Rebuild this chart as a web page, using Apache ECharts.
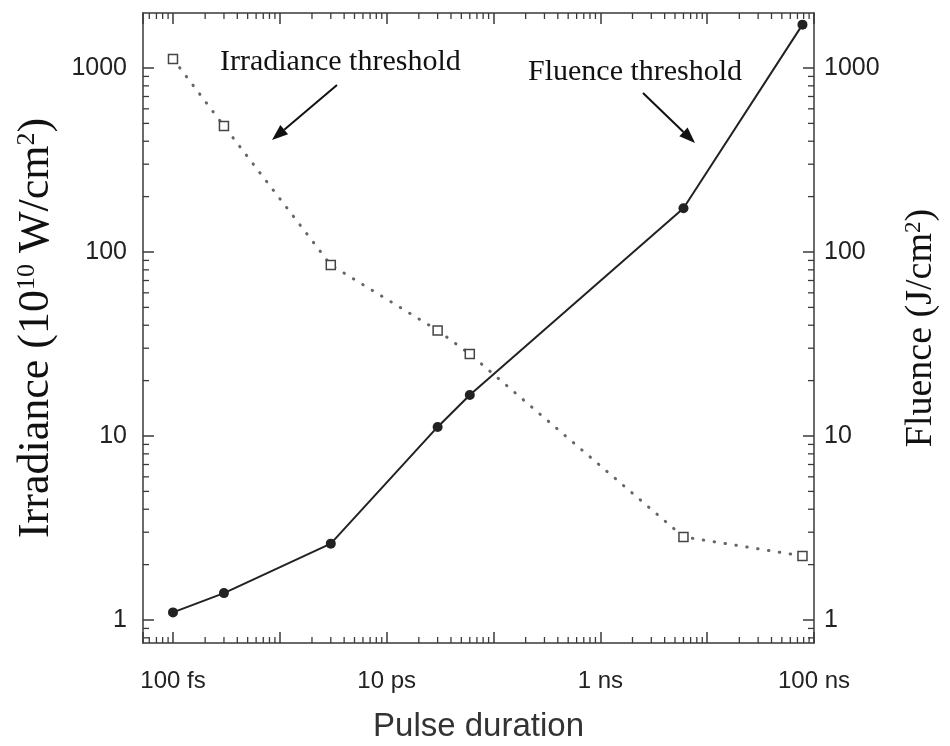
<!DOCTYPE html>
<html>
<head>
<meta charset="UTF-8">
<title>Irradiance and fluence threshold vs pulse duration</title>
<script src="https://cdn.jsdelivr.net/npm/echarts@6/dist/echarts.min.js"></script>
<style>
	html, body { margin: 0; background: #fff; }
	#chart { width: 950px; height: 746px; }
</style>
</head>
<body>
<div id="chart"></div>
<script>
	// pulse duration, in fs
	var pulseFs = [100, 300, 3000, 30000, 60000, 6e6, 7.8e7];
	// irradiance threshold, 10^10 W/cm2 (open squares, dotted)
	var irradiance = [1120, 484, 85, 37.5, 27.9, 2.83, 2.23];
	// fluence threshold, J/cm2 (filled circles, solid)
	var fluence = [1.1, 1.4, 2.6, 11.2, 16.7, 173, 1720];
	// x tick labels keyed by log10(fs)
	var xTickLabels = { 2: '100 fs', 4: '10 ps', 6: '1 ns', 8: '100 ns' };
	var xMin = 52.4, xMax = 1e8;
	var yMin = 0.75, yMax = 1990;

	var INK = '#3a3a3a';

	// minor ticks 2..9 inside each decade
	function minorTicks(lo, hi) {
		var out = [];
		for (var e = Math.floor(Math.log10(lo)); e <= Math.ceil(Math.log10(hi)); e++) {
			for (var m = 2; m <= 9; m++) {
				var v = m * Math.pow(10, e);
				if (v > lo && v < hi) out.push(v);
			}
		}
		return out;
	}

	function tickLine(x1, y1, x2, y2) {
		return { type: 'line', shape: { x1: x1, y1: y1, x2: x2, y2: y2 }, style: { stroke: INK, lineWidth: 1.3 } };
	}

	function minorTickSeries(dir) {
		var vals = dir === 'x' ? minorTicks(xMin, xMax) : minorTicks(yMin, yMax);
		return {
			type: 'custom', silent: true, z: 1, clip: false,
			xAxisIndex: 0, yAxisIndex: 0,
			data: vals.map(function (v) { return dir === 'x' ? [v, 1] : [1, v]; }),
			renderItem: function (params, api) {
				var cs = params.coordSys, len = 6;
				if (dir === 'x') {
					var px = api.coord([api.value(0), 1])[0];
					return { type: 'group', children: [
						tickLine(px, cs.y + cs.height, px, cs.y + cs.height - len),
						tickLine(px, cs.y, px, cs.y + len)
					] };
				}
				var py = api.coord([1, api.value(1)])[1];
				return { type: 'group', children: [
					tickLine(cs.x, py, cs.x + len, py),
					tickLine(cs.x + cs.width, py, cs.x + cs.width - len, py)
				] };
			}
		};
	}

	// arrow for the annotations: line plus filled head at (tx, ty)
	function arrow(sx, sy, tx, ty) {
		var a = Math.atan2(ty - sy, tx - sx), hl = 16, hw = 6;
		var bx = tx - hl * Math.cos(a), by = ty - hl * Math.sin(a);
		var nx = -Math.sin(a) * hw, ny = Math.cos(a) * hw;
		return [
			{ type: 'line', shape: { x1: sx, y1: sy, x2: bx, y2: by }, style: { stroke: '#111', lineWidth: 2 } },
			{ type: 'polygon', shape: { points: [[tx, ty], [bx + nx, by + ny], [bx - nx, by - ny]] }, style: { fill: '#111' } }
		];
	}

	function plainNumber(v) { return String(v); }

	var axisLine = { show: true, lineStyle: { color: INK, width: 1.5 } };
	var majorTick = { show: true, inside: true, length: 11, lineStyle: { color: INK, width: 1.5 } };
	var sans = 'Liberation Sans';
	var serif = 'Liberation Serif';

	var chart = echarts.init(document.getElementById('chart'));
	chart.setOption({
		animation: false,
		backgroundColor: '#fff',
		grid: { left: 143, right: 136, top: 13, bottom: 103, containLabel: false, outerBoundsMode: 'none' },
		xAxis: [{
			type: 'log', logBase: 10, min: xMin, max: xMax, position: 'bottom',
			axisLine: axisLine, axisTick: majorTick, splitLine: { show: false },
			axisLabel: {
				fontFamily: sans, color: '#222', fontSize: 24, margin: 26,
				formatter: function (v) {
					var e = Math.log10(v), r = Math.round(e);
					return Math.abs(e - r) < 1e-6 && xTickLabels[r] ? xTickLabels[r] : '';
				}
			},
			name: 'Pulse duration', nameLocation: 'middle', nameGap: 67,
			nameTextStyle: { fontFamily: sans, fontSize: 33, color: '#333' }
		}, {
			type: 'log', logBase: 10, min: xMin, max: xMax, position: 'top',
			axisLine: axisLine, axisTick: majorTick, axisLabel: { show: false }, splitLine: { show: false }
		}],
		yAxis: [{
			type: 'log', logBase: 10, min: yMin, max: yMax, position: 'left',
			axisLine: axisLine, axisTick: majorTick, splitLine: { show: false },
			axisLabel: { fontFamily: sans, color: '#222', fontSize: 25, margin: 16, showMinLabel: false, showMaxLabel: false, formatter: plainNumber },
			name: 'Irradiance (10{sup|10} W/cm{sup|2})', nameLocation: 'middle', nameRotate: 90, nameGap: 85,
			nameTextStyle: { fontFamily: serif, fontSize: 44, color: '#111',
				rich: { sup: { fontFamily: serif, fontSize: 26, color: '#111', verticalAlign: 'top' } } }
		}, {
			type: 'log', logBase: 10, min: yMin, max: yMax, position: 'right',
			axisLine: axisLine, axisTick: majorTick, splitLine: { show: false },
			axisLabel: { fontFamily: sans, color: '#222', fontSize: 25, margin: 10, showMinLabel: false, showMaxLabel: false, formatter: plainNumber },
			name: 'Fluence (J/cm{sup|2})', nameLocation: 'middle', nameRotate: 90, nameGap: 88,
			nameTextStyle: { fontFamily: serif, fontSize: 38, color: '#111',
				rich: { sup: { fontFamily: serif, fontSize: 23, color: '#111', verticalAlign: 'top' } } }
		}],
		series: [
			minorTickSeries('x'),
			minorTickSeries('y'),
			{
				name: 'Irradiance threshold', type: 'line', xAxisIndex: 0, yAxisIndex: 0,
				data: pulseFs.map(function (x, i) { return [x, irradiance[i]]; }),
				showAllSymbol: true, symbol: 'rect', symbolSize: 9,
				lineStyle: { color: '#666', width: 3, type: [0.5, 10.5], cap: 'round' },
				itemStyle: { color: '#fff', borderColor: '#444', borderWidth: 1.5 },
				z: 3
			},
			{
				name: 'Fluence threshold', type: 'line', xAxisIndex: 0, yAxisIndex: 1,
				data: pulseFs.map(function (x, i) { return [x, fluence[i]]; }),
				showAllSymbol: true, symbol: 'circle', symbolSize: 10,
				lineStyle: { color: '#222', width: 2 },
				itemStyle: { color: '#222' },
				z: 4
			}
		],
		graphic: [
			{ type: 'text', x: 220, y: 62, style: { text: 'Irradiance threshold', font: '30px "Liberation Serif"', fill: '#111', verticalAlign: 'middle' } },
			{ type: 'text', x: 528, y: 72, style: { text: 'Fluence threshold', font: '30px "Liberation Serif"', fill: '#111', verticalAlign: 'middle' } }
		].concat(arrow(337, 85, 272, 140)).concat(arrow(643, 93, 695, 143))
	});
</script>
</body>
</html>
